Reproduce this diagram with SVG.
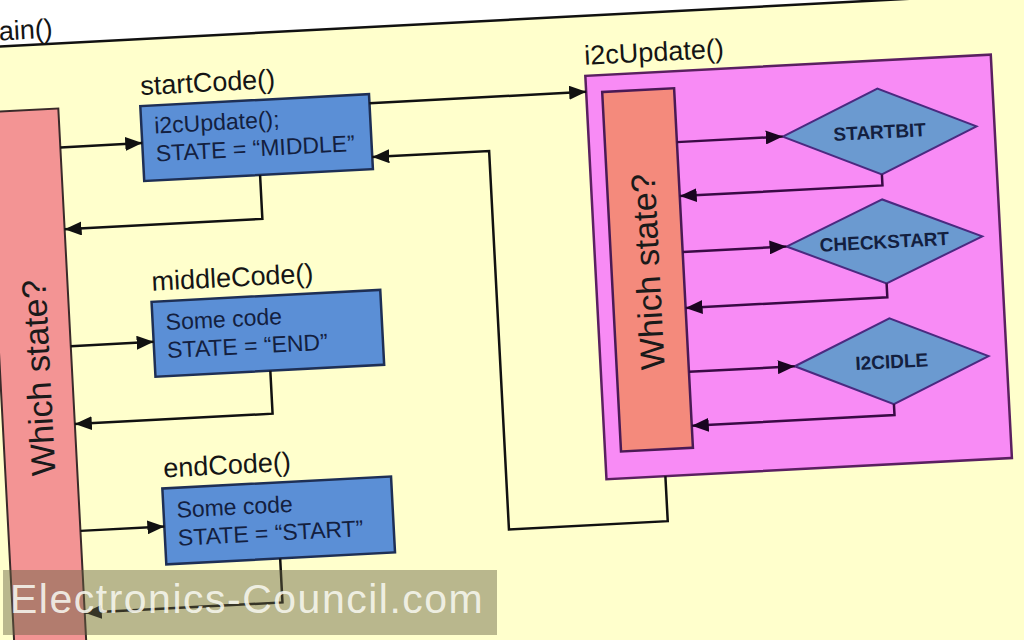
<svg xmlns="http://www.w3.org/2000/svg" width="1024" height="640" viewBox="0 0 1024 640">
<defs>
<marker id="ah" markerUnits="userSpaceOnUse" markerWidth="18" markerHeight="14" refX="17" refY="7" orient="auto">
<path d="M0,0 L17,7 L0,14 z" fill="#111"/>
</marker>
<marker id="ahp" markerUnits="userSpaceOnUse" markerWidth="18" markerHeight="14" refX="17" refY="7" orient="auto">
<path d="M0,0 L17,7 L0,14 z" fill="#1a0520"/>
</marker>
<style>
text{font-family:"Liberation Sans",Arial,sans-serif;}
.lbl{font-size:27px;fill:#151515;}
.code{fill:#5b8fd6;stroke:#1e2f55;stroke-width:2.5;}
.ct{font-size:23px;fill:#13203f;}
.bar{fill:#f39494;stroke:#3a2a2a;stroke-width:2;}
.ibar{fill:#f48a7c;stroke:#4a1a55;stroke-width:2.5;}
.bt{font-size:34px;fill:#1a1a1a;text-anchor:middle;}
.dia{fill:#6b9ad0;stroke:#4a2a80;stroke-width:2;}
.dt{font-size:19px;font-weight:bold;fill:#13203f;text-anchor:middle;}
.c{fill:none;stroke:#111;stroke-width:2.5;marker-end:url(#ah);}
.cp{fill:none;stroke:#3a0a45;stroke-width:2.5;marker-end:url(#ahp);}
</style>
</defs>
<g transform="rotate(-3 512 320)">
<rect x="-200" y="-200" width="1500" height="1200" fill="#ffffff"/>
<rect id="mainFrame" x="-200" y="20" width="1500" height="900" fill="#ffffcc"/>
<line x1="-200" y1="20" x2="1300" y2="20" stroke="#111" stroke-width="2.5"/>
<text class="lbl" x="-8" y="14" font-size="25">main()</text>

<g id="whichState">
<rect class="bar" x="-2" y="85" width="72" height="600"/>
<text class="bt" transform="translate(48 353) rotate(-90)">Which state?</text>
</g>

<g id="startCode">
<text class="lbl" x="153" y="76">startCode()</text>
<rect class="code" x="152" y="87" width="229" height="75"/>
<text class="ct" x="165" y="115">i2cUpdate();</text>
<text class="ct" x="165" y="143">STATE = “MIDDLE”</text>
</g>

<g id="middleCode">
<text class="lbl" x="154" y="272">middleCode()</text>
<rect class="code" x="153" y="283" width="229" height="75"/>
<text class="ct" x="166" y="312">Some code</text>
<text class="ct" x="166" y="340">STATE = “END”</text>
</g>

<g id="endCode">
<text class="lbl" x="156" y="459">endCode()</text>
<rect class="code" x="154" y="470" width="229" height="76"/>
<text class="ct" x="167" y="500">Some code</text>
<text class="ct" x="167" y="528">STATE = “START”</text>
</g>

<g id="i2cUpdate">
<text class="lbl" x="598" y="69">i2cUpdate()</text>
<rect x="598" y="80" width="406" height="404" fill="#f88bf5" stroke="#5a2060" stroke-width="2.5"/>
</g>

<g id="i2cWhichState">
<rect class="ibar" x="614" y="97" width="72" height="360"/>
<text class="bt" transform="translate(662 279) rotate(-90)">Which state?</text>
</g>

<g id="startbit">
<polygon class="dia" points="792,151 889,108 986,151 889,194"/>
<text class="dt" x="889" y="158">STARTBIT</text>
</g>
<g id="checkstart">
<polygon class="dia" points="790,261 888,219 986,261 888,303"/>
<text class="dt" x="888" y="268">CHECKSTART</text>
</g>
<g id="i2cidle">
<polygon class="dia" points="792,381 889,338 986,381 889,424"/>
<text class="dt" x="889" y="388">I2CIDLE</text>
</g>

<g id="connectors">
<path class="c" d="M70,124 L152,124"/>
<path class="c" d="M268,162 L268,206 L70,206"/>
<path class="c" d="M70,323 L153,323"/>
<path class="c" d="M268,358 L268,401 L70,401"/>
<path class="c" d="M70,508 L154,508"/>
<path class="c" d="M268,546 L268,590 L70,590"/>
<path class="c" d="M381,96 L598,96"/>
<path class="c" d="M657,484 L657,529 L498,529 L498,150 L381,150"/>
<path class="cp" d="M686,151 L792,151"/>
<path class="cp" d="M889,194 L889,205 L686,205"/>
<path class="cp" d="M686,261 L790,261"/>
<path class="cp" d="M888,303 L888,317 L686,317"/>
<path class="cp" d="M686,381 L792,381"/>
<path class="cp" d="M889,424 L889,435 L686,435"/>
</g>
</g>

<g id="watermark">
<rect x="3" y="570" width="494" height="65" fill="rgb(100,95,65)" fill-opacity="0.45"/>
<text x="10" y="613" font-size="41" letter-spacing="1.5" fill="#f6f6ee" fill-opacity="0.9">Electronics-Council.com</text>
</g>
</svg>
